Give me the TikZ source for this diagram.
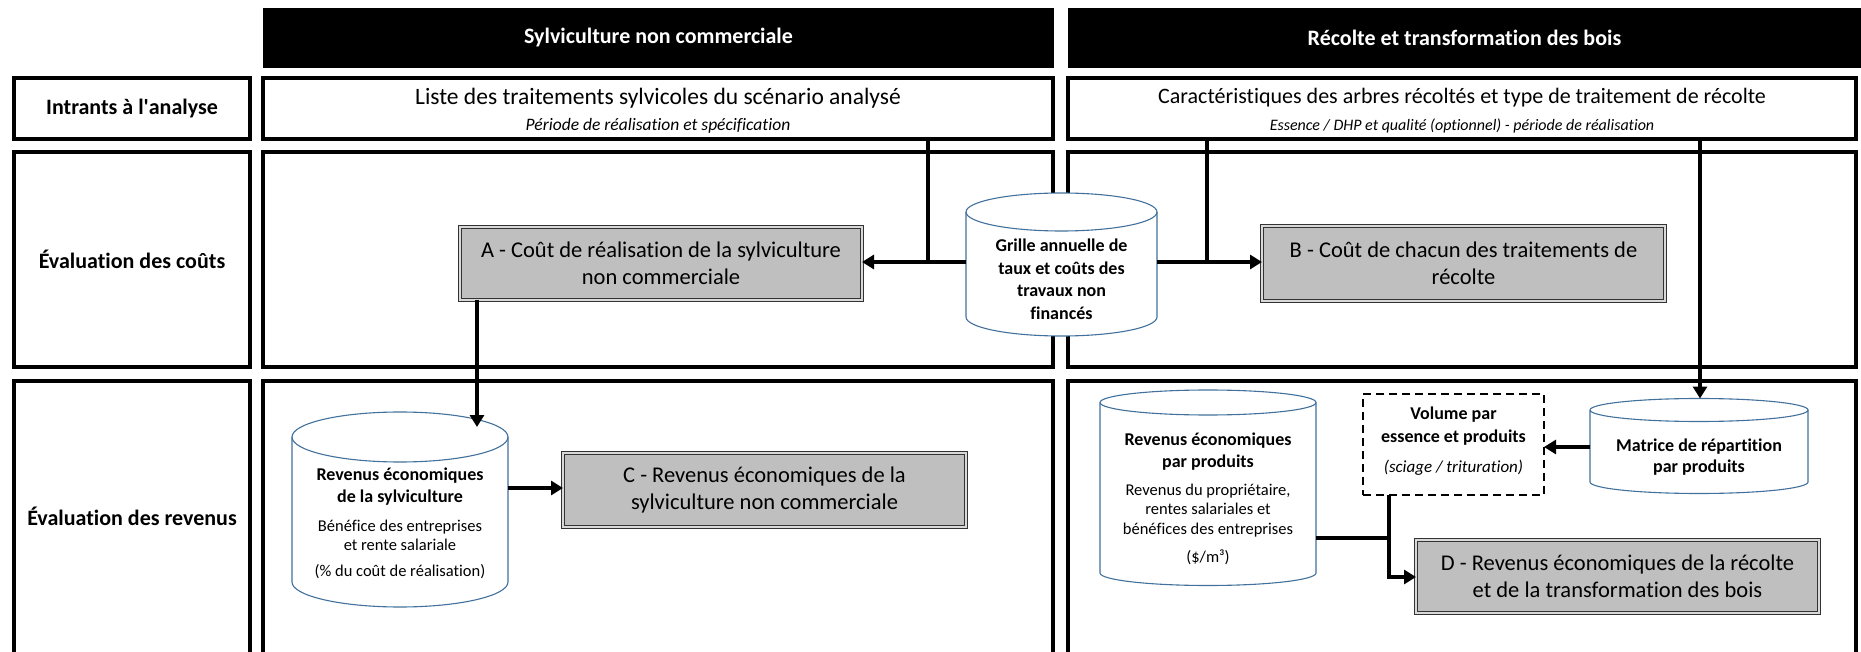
\documentclass[tikz,border=0pt]{standalone}
\usepackage{fontspec}
\setmainfont{Carlito}[Ligatures={TeX,NoCommon}]
\usetikzlibrary{arrows.meta}
\definecolor{cylblue}{HTML}{41719C}
\definecolor{boxgray}{HTML}{BFBFBF}
\newcommand\rect[7]{\node[#1,minimum width={(#5)-(#3)},minimum height={(#6)-(#4)}] (#2) at ({((#3)+(#5))/2},{-((#4)+(#6))/2}) {#7};}
\newcommand\cyl[6]{%
  \draw[cylline] ({#2-#5},{-(#3)}) -- ({#2-#5},{-(#4)}) arc[start angle=180,end angle=360,x radius=#5pt,y radius=#6pt] -- ({#2+#5},{-(#3)}) arc[start angle=0,end angle=180,x radius=#5pt,y radius=#6pt] -- cycle;
  \draw[cylline,fill=none] ({#2-#5},{-(#3)}) arc[start angle=180,end angle=360,x radius=#5pt,y radius=#6pt];
  \node[inner sep=0pt,outer sep=0pt,minimum width={2*(#5)},minimum height={(#4)-(#3)+2*(#6)}] (#1) at ({#2},{-((#3)+(#4))/2}) {};
}
\begin{document}
\begin{tikzpicture}[x=1pt,y=1pt,
  frame/.style={draw=black,line width=3.5pt,inner sep=0pt,outer sep=0pt},
  openbox/.style={inner sep=0pt,outer sep=0pt},
  hdrbox/.style={fill=black,inner sep=0pt,outer sep=0pt,text=white,font=\fontsize{22}{26}\selectfont\bfseries},
  rowlabel/.style={font=\fontsize{22}{26}\selectfont\bfseries},
  intxt/.style={inner sep=0pt,font=\fontsize{22}{26}\selectfont},
  initxt/.style={inner sep=0pt,font=\fontsize{16}{19}\selectfont\itshape},
  graybox/.style={fill=boxgray,draw=black!80,line width=0.8pt,double=black!15,double distance=1.6pt,inner sep=0pt,outer sep=0pt,align=center,font=\fontsize{22.5}{27.5}\selectfont},
  cylline/.style={draw=cylblue,line width=1.1pt,fill=white},
  cylbold/.style={align=center,inner sep=0pt,font=\fontsize{18}{21.5}\selectfont\bfseries},
  cylreg/.style={align=center,inner sep=0pt,font=\fontsize{16.5}{19.5}\selectfont},
  conn/.style={draw=black,line width=3.5pt},
  arr/.style={conn,-{Triangle[length=12pt,width=14pt]}},
  dashbox/.style={draw=black,line width=2.5pt,dash pattern=on 8pt off 5pt,inner sep=0pt,outer sep=0pt}
]
\useasboundingbox (0,0) rectangle (1861,-652);

% headers
\rect{hdrbox}{hL}{263}{8}{1054}{68}{Sylviculture non commerciale}
\rect{hdrbox}{hR}{1068}{8}{1861}{68}{Récolte et transformation des bois}

% row 1
\rect{frame,rowlabel}{lab1}{14}{78}{250}{139}{Intrants à l\textquotesingle analyse}
\rect{frame}{inL}{263}{78}{1053}{139}{}
\rect{frame}{inR}{1068}{78}{1856}{139}{}
\node[intxt,font=\fontsize{23.5}{28}\selectfont] (inLa) at (658,-98) {Liste des traitements sylvicoles du scénario analysé};
\node[initxt,font=\fontsize{17.5}{21}\selectfont\itshape] (inLb) at (658,-126) {Période de réalisation et spécification};
\node[intxt] (inRa) at (1462,-98) {Caractéristiques des arbres récoltés et type de traitement de récolte};
\node[initxt] (inRb) at (1462,-126) {Essence / DHP et qualité (optionnel) - période de réalisation};

% row 2
\rect{frame,rowlabel}{lab2}{14}{152}{250}{367}{Évaluation des coûts}
\rect{frame}{cL}{263}{152}{1053}{367}{}
\rect{frame}{cR}{1068}{152}{1856}{367}{}

% row 3 (cut at the bottom)
\rect{openbox,rowlabel}{lab3}{14}{381}{250}{652}{Évaluation des revenus}
\rect{openbox}{rL}{263}{381}{1053}{652}{}
\rect{openbox}{rR}{1068}{381}{1856}{652}{}
\foreach \n in {lab3,rL,rR}
  \draw[frame] (\n.south west) -- (\n.north west) -- (\n.north east) -- (\n.south east);

% gray result boxes
\rect{graybox}{A}{460}{227}{862}{300}{A - Coût de réalisation de la sylviculture\\non commerciale}
\rect{graybox}{B}{1262}{226}{1665}{301}{B - Coût de chacun des traitements de\\récolte}
\rect{graybox}{C}{563}{453}{966}{527}{C - Revenus économiques de la\\sylviculture non commerciale}
\rect{graybox}{D}{1416}{540}{1819}{613}{D - Revenus économiques de la récolte\\et de la transformation des bois}

% cylinders
\cyl{grille}{1061.5}{212}{317}{95.5}{19}
\node[cylbold,font=\fontsize{18}{22.5}\selectfont\bfseries] (grilleT) at (1061.5,-279.5) {Grille annuelle de\\taux et coûts des\\travaux non\\financés};

\cyl{sylv}{400}{437}{582}{108}{25}
\node[cylbold] (sylvT1) at (400,-486.5) {Revenus économiques\\de la sylviculture};
\node[cylreg] (sylvT2) at (400,-535.5) {Bénéfice des entreprises\\et rente salariale};
\node[cylreg] (sylvT3) at (400,-572) {(\% du coût de réalisation)};

\cyl{prod}{1208}{402.5}{573}{108}{12.5}
\node[cylbold] (prodT1) at (1208,-451.7) {Revenus économiques\\par produits};
\node[cylreg] (prodT2) at (1208,-510.5) {Revenus du propriétaire,\\rentes salariales et\\bénéfices des entreprises};
\node[cylreg] (prodT3) at (1208,-557) {(\$/m³)};

\rect{dashbox}{vol}{1363}{394}{1544}{495}{}
\node[cylbold,font=\fontsize{18}{23.5}\selectfont\bfseries] (volT1) at (1453.5,-426) {Volume par\\essence et produits};
\node[cylreg,font=\fontsize{17}{20}\selectfont\itshape] (volT2) at (1453.5,-468) {(sciage / trituration)};

\cyl{mat}{1699}{410}{482}{109}{11.5}
\node[cylbold] (matT) at (1699,-457) {Matrice de répartition\\par produits};

% connectors
\coordinate (j1) at (928,-262);
\coordinate (j2) at (1207,-262);
\coordinate (j3) at (1700,-250);
\coordinate (j4) at (477,-427);
\coordinate (j5) at (0,-488);
\coordinate (j6) at (0,-447);
\coordinate (j7) at (1389,-577);
\coordinate (j8) at (1389,-538);

\draw[conn] (j1 |- inL.south) -- (j1);
\draw[arr] (grille.west |- j1) -- (A.east |- j1);
\draw[conn] (j2 |- inR.south) -- (j2);
\draw[arr] (grille.east |- j2) -- (B.west |- j2);
\draw[arr] (j3 |- inR.south) -- (j3 |- mat.north);
\draw[arr] (j4 |- A.south) -- (j4);
\draw[arr] (sylv.east |- j5) -- (C.west |- j5);
\draw[arr] (mat.west |- j6) -- (vol.east |- j6);
\draw[arr] (j7 |- vol.south) -- (j7) -- (D.west |- j7);
\draw[conn] (prod.east |- j8) -- (j8);
\end{tikzpicture}
\end{document}
